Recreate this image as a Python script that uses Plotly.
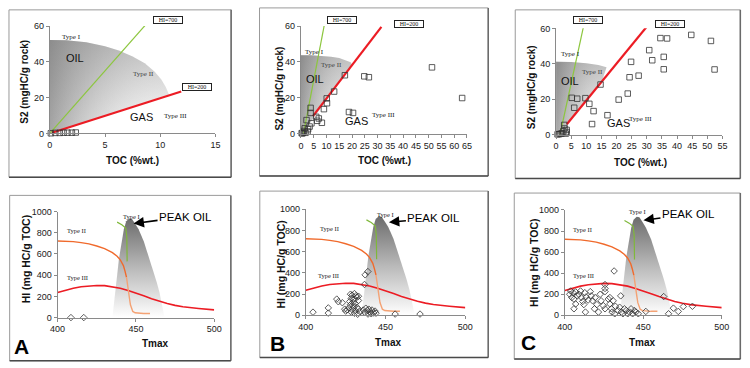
import plotly.graph_objects as go

W, H = 750, 368
def fx(p): return p / W
def fy(p): return 1 - p / H

# ---------------- DATA ----------------
# Top row: S2 (mgHC/g rock) vs TOC (%wt.)
A_toc = [0.1, 0.5, 0.9, 1.25, 1.6, 2.0, 2.35]
A_s2 = [0.1, 0.3, 0.3, 0.4, 0.4, 0.4, 0.5]

B_toc = [17.2, 24.8, 26.6, 51.3, 63.1, 13.0, 10.1, 10.2, 9.0, 3.8, 3.8, 2.2, 6.0, 7.0, 8.2,
         6.4, 4.1, 18.8, 20.4, 1.5, 3.4, 2.6, 0.9, 0.3, 1.8, 2.8, 1.2, 0.6]
B_s2 = [32.6, 32.0, 31.5, 37.0, 19.9, 23.5, 19.7, 17.0, 13.7, 14.4, 11.6, 7.6, 9.4, 8.5, 6.1,
        7.2, 5.8, 12.1, 11.6, 3.0, 4.0, 1.2, 0.7, 0.3, 0.5, 2.5, 1.5, 0.2]

C_toc = [34.5, 36.7, 44.7, 51.2, 30.8, 31.8, 35.6, 35.6, 52.4, 24.8, 27.3, 24.3, 23.7, 20.7,
         14.7, 9.7, 11.0, 12.4, 7.0, 5.2, 6.0, 17.0, 11.9, 2.7, 3.5, 2.4, 0.5, 1.0, 1.5, 2.0,
         3.2, 3.5, 2.8]
C_s2 = [54.5, 54.3, 56.3, 52.9, 47.7, 42.0, 43.9, 36.9, 36.8, 41.1, 33.3, 32.4, 23.2, 19.8,
        28.3, 20.6, 17.4, 13.3, 20.3, 20.8, 15.2, 11.0, 6.0, 5.5, 2.7, 1.9, 0.2, 0.3, 0.5, 0.8,
        0.6, 1.5, 3.5]

# HI reference lines (TOC, S2)
A_hi700 = ([0, 8.8], [0, 61.6]);    A_hi200 = ([0.2, 11.9], [0.4, 23.4])
B_hi700 = ([1.0, 9.2], [0, 61]);    B_hi200 = ([4.7, 31.5], [9.8, 59.6])
C_hi700 = ([1.3, 9.2], [0, 62]);    C_hi200 = ([3.56, 30.5], [5.85, 62])

# Oil zone outlines (TOC, S2)
A_oil_toc = [0, 0, 1.5, 3.3, 5, 6.25, 7.5, 8.6, 9.5, 10.1, 10.5, 10.8, 0.2]
A_oil_s2 = [0, 52.3, 52.1, 51, 48.8, 46.4, 43, 39.2, 34.5, 30.1, 26, 21.6, 0.4]
B_oil_toc = [0, 0, 4, 8, 11.8, 15, 17.5, 19.5, 20.1, 18.8, 17.4, 0.5]
B_oil_s2 = [0, 43.7, 43.7, 43.5, 42.9, 42.2, 41, 39.8, 38.3, 35.5, 33.2, 0]
C_oil_toc = [0, 0, 5, 10, 14, 16.7, 15.9, 15.1, 0.75]
C_oil_s2 = [0, 41.2, 41, 40.3, 39.3, 38.0, 34, 29.6, 0]

# Bottom row: HI vs Tmax
typeII_hi_T = [400, 405, 410, 415, 420, 425, 430, 435, 438, 440, 442, 443, 444]
typeII_hi_HI = [722, 721, 716, 707, 695, 675, 650, 612, 578, 545, 490, 440, 380]
typeII_lo_T = [444, 444.7, 445.3, 445.9, 446.5, 447.2, 448, 449.5, 452, 455, 459]
typeII_lo_HI = [380, 320, 250, 180, 120, 80, 58, 45, 40, 38, 38]
typeIII_T = [400, 405, 410, 415, 420, 425, 430, 435, 440, 445, 450, 455, 460, 465, 470, 475, 480, 490, 500]
typeIII_HI = [236, 258, 277, 291, 300, 303, 301, 292, 277, 255, 232, 205, 178, 152, 132, 115, 102, 86, 73]
typeI_T = [438, 441, 443.5, 444.2, 444.4]
typeI_HI = [900, 875, 845, 760, 530]
peak_T = [435, 436.7, 439.2, 442.3, 443.8, 445.8, 447.5, 449.5, 451.7, 455, 457.9, 460.5, 463.1, 465, 466.2, 467.9, 468.3, 435]
peak_HI = [0, 251, 557, 832, 908, 935, 930, 885, 832, 720, 587, 470, 343, 240, 159, 37, 0, 0]

Abot_T = [408.5, 416.7]
Abot_HI = [0, 0]

Bbot_T = [404.5, 414.1, 414.1, 419.4, 420.4, 422.9, 424.4, 426, 425, 428, 429, 430.5, 431.5, 428.5,
          430, 432, 427.5, 429.5, 431, 433, 428, 430, 432, 427, 429, 431, 433, 428.5, 430.5, 432.5,
          434, 433, 436.8, 437.2, 438.9, 437.6, 438.5, 439.5, 440.5, 441.5, 442.5, 443.4, 437, 439,
          441, 444, 436, 456, 471.6]
Bbot_HI = [30, 70, 21, 153, 128, 119, 58, 52, 40, 199, 190, 205, 185, 160, 150, 170, 130, 120, 110,
           140, 100, 85, 75, 70, 55, 45, 60, 30, 20, 10, 35, 180, 291, 382, 413, 67, 45, 58, 30, 50,
           22, 40, 25, 12, 15, 20, 50, 12, 12]

Cbot_T = [403.7, 403.1, 405.2, 406.9, 404.4, 407.9, 405.8, 408.9, 410, 410.6, 411.4, 412.7, 413.5,
          414.8, 412.1, 406.9, 405.8, 413.1, 416.2, 416.8, 417.7, 419.3, 420.4, 418.9, 421.4, 422.5,
          423.1, 424.5, 425.6, 425.6, 425.6, 425.6, 427.7, 428.7, 429.7, 430.1, 431.8, 428.7, 430.8,
          432.2, 433.9, 434.9, 436, 437, 438, 439.1, 440.1, 441.2, 442.2, 443.2, 444.3, 445.3, 446.8,
          431.4, 435.6, 463, 469.2, 472.3, 475.5, 481.3, 466.1, 451.6]
Cbot_HI = [231, 200, 215, 222, 169, 185, 154, 200, 231, 169, 132, 215, 175, 145, 102, 108, 62, 31,
           225, 185, 138, 169, 102, 62, 31, 200, 138, 92, 62, 292, 255, 225, 154, 108, 62, 31, 15,
           169, 138, 86, 46, 77, 31, 15, 62, 46, 15, 31, 62, 15, 46, 31, 15, 421, 185, 178, 68, 37,
           83, 86, 15, 37]

# ---------------- FIGURE ----------------
fig = go.Figure()

INK = '#333333'
RED = '#ec1c24'
GREEN = '#8cc63e'

def oil_zone(xs, ys, ax):
    fig.add_trace(go.Scatter(x=xs, y=ys, xaxis='x' + ax, yaxis='y' + ax, mode='lines',
                             fill='toself', line=dict(width=0), hoverinfo='skip',
                             fillgradient=dict(type='horizontal',
                                               colorscale=[[0, 'rgba(110,110,110,0.62)'],
                                                           [1, 'rgba(255,255,255,0)']])))
    fig.add_trace(go.Scatter(x=xs, y=ys, xaxis='x' + ax, yaxis='y' + ax, mode='lines',
                             fill='toself', line=dict(width=0), hoverinfo='skip',
                             fillgradient=dict(type='vertical',
                                               colorscale=[[0, 'rgba(110,110,110,0)'],
                                                           [1, 'rgba(110,110,110,0.45)']])))

def line(xs, ys, ax, color, width):
    fig.add_trace(go.Scatter(x=xs, y=ys, xaxis='x' + ax, yaxis='y' + ax, mode='lines',
                             line=dict(color=color, width=width), hoverinfo='skip'))

def pts(xs, ys, ax, symbol, size):
    fig.add_trace(go.Scatter(x=xs, y=ys, xaxis='x' + ax, yaxis='y' + ax, mode='markers',
                             cliponaxis=False,
                             marker=dict(symbol=symbol, size=size, color=INK,
                                         line=dict(width=0.8, color=INK))))

top = [
    ('', A_oil_toc, A_oil_s2, A_hi700, A_hi200, A_toc, A_s2),
    ('2', B_oil_toc, B_oil_s2, B_hi700, B_hi200, B_toc, B_s2),
    ('3', C_oil_toc, C_oil_s2, C_hi700, C_hi200, C_toc, C_s2),
]
for ax, ox, oy, h7, h2, tx, ty in top:
    oil_zone(ox, oy, ax)
    line(h7[0], h7[1], ax, GREEN, 1.2)
    line(h2[0], h2[1], ax, RED, 2.2)
    pts(tx, ty, ax, 'square-open', 5.5)

bottom = [('4', Abot_T, Abot_HI), ('5', Bbot_T, Bbot_HI), ('6', Cbot_T, Cbot_HI)]
for ax, bt, bh in bottom:
    fig.add_trace(go.Scatter(x=peak_T, y=peak_HI, xaxis='x' + ax, yaxis='y' + ax, mode='lines',
                             fill='toself', line=dict(width=0), hoverinfo='skip',
                             fillgradient=dict(type='vertical',
                                               colorscale=[[0, 'rgba(255,255,255,1)'],
                                                           [0.5, 'rgba(185,185,185,1)'],
                                                           [1, 'rgba(108,108,108,1)']])))
    line(typeIII_T, typeIII_HI, ax, RED, 1.6)
    line(typeII_hi_T, typeII_hi_HI, ax, '#f06a2c', 1.4)
    line(typeII_lo_T, typeII_lo_HI, ax, '#f4a274', 1.4)
    line(typeI_T, typeI_HI, ax, '#7fb83a', 1.2)
    pts(bt, bh, ax, 'diamond-open', 5)

# ---------------- AXES ----------------
tickfont = dict(family='Arial', size=9, color='#1a1a1a')
common = dict(showgrid=False, zeroline=False, showline=True, linecolor='#8a8a8a', linewidth=1,
              ticks='outside', ticklen=3, tickcolor='#8a8a8a', tickfont=tickfont)

top_dom = [((42.7, 212), (21.7, 132), 15), ((299.3, 469), (21.7, 132.3), 65),
           ((560, 730), (24, 133.3), 55)]
bot_dom = [((50.7, 210.7), (212.3, 321.3)), ((304.3, 467.3), (210, 319)),
           ((569, 729.3), (210.7, 319))]

lay = {}
for i, ((x0, x1), (y0, y1), xmax) in enumerate(top_dom):
    n = '' if i == 0 else str(i + 1)
    lay['xaxis' + n] = dict(domain=[fx(x0), fx(x1)], range=[0, xmax], dtick=5, tick0=0,
                            anchor='y' + n, **common)
    lay['yaxis' + n] = dict(domain=[fy(y1), fy(y0)], range=[0, 60], dtick=20, tick0=0,
                            anchor='x' + n, **common)
for i, ((x0, x1), (y0, y1)) in enumerate(bot_dom):
    n = str(i + 4)
    lay['xaxis' + n] = dict(domain=[fx(x0), fx(x1)], range=[400, 500], dtick=50, tick0=400,
                            anchor='y' + n, **common)
    lay['yaxis' + n] = dict(domain=[fy(y1), fy(y0)], range=[0, 1000], dtick=200, tick0=0,
                            anchor='x' + n, **common)

# ---------------- FRAMES ----------------
frames = [(1, 5, 228, 177), (257, 3, 490.7, 175.7), (518.3, 5, 748.3, 178.3),
          (1.7, 195.7, 227.7, 365.7), (257.3, 191.3, 490.7, 362.3), (517.3, 193.3, 748.3, 364)]
shapes = []
for (x0, y0, x1, y1) in frames:
    shapes.append(dict(type='rect', xref='paper', yref='paper', x0=fx(x0), x1=fx(x1),
                       y0=fy(y1), y1=fy(y0), line=dict(color='#9a9a9a', width=1), layer='below'))
    shapes.append(dict(type='line', xref='paper', yref='paper', x0=fx(x1), x1=fx(x1),
                       y0=fy(y1), y1=fy(y0), line=dict(color='#6a6a6a', width=1.5)))
    shapes.append(dict(type='line', xref='paper', yref='paper', x0=fx(x0), x1=fx(x1),
                       y0=fy(y1), y1=fy(y1), line=dict(color='#4a4a4a', width=1.5)))

# ---------------- TEXT ----------------
anns = []
def ptxt(text, x, y, size, family='Arial', angle=0, color='#111'):
    anns.append(dict(text=text, x=fx(x), y=fy(y), xref='paper', yref='paper', showarrow=False,
                     font=dict(family=family, size=size, color=color), textangle=angle,
                     xanchor='center', yanchor='middle'))

def dtxt(text, x, y, ax, size, family='Liberation Serif', color='#222'):
    anns.append(dict(text=text, x=x, y=y, xref='x' + ax, yref='y' + ax, showarrow=False,
                     font=dict(family=family, size=size, color=color),
                     xanchor='center', yanchor='middle'))

def hibox(text, x, y):
    anns.append(dict(text=text, x=fx(x), y=fy(y), xref='paper', yref='paper', showarrow=False,
                     font=dict(family='Liberation Serif', size=6, color='#111'),
                     bordercolor='#222', borderwidth=1, borderpad=0, bgcolor='white',
                     width=28, height=6, xanchor='center', yanchor='middle'))

# axis titles
for (xx, yy) in [(17.3, 79), (277, 85.8), (535, 85)]:
    ptxt('<b>S2 (mgHC/g rock)</b>', xx, yy, 10, angle=-90)
for (xx, yy) in [(127.7, 160), (385, 160), (646.2, 162.3)]:
    ptxt('<b>TOC (%wt.)</b>', xx, yy, 10)
for (xx, yy) in [(18.3, 261.5), (278.5, 267.3), (538, 265.7)]:
    ptxt('<b>HI (mg HC/g TOC)</b>', xx, yy, 10.5, angle=-90)
for (xx, yy) in [(150.5, 348.3), (388.3, 346.7), (648, 347.3)]:
    ptxt('<b>Tmax</b>', xx, yy, 10)

# panel letters
for t, xx, yy in [('A', 13.3, 350.7), ('B', 275, 348.3), ('C', 531.7, 347.3)]:
    ptxt('<b>' + t + '</b>', xx, yy, 21, color='#000')

# HI boxes
for t, xx, yy in [('HI=700', 163.5, 15.3), ('HI=200', 193.5, 84), ('HI=700', 341, 15.5),
                  ('HI=200', 410, 19.5), ('HI=700', 593, 15.7), ('HI=200', 676, 19.7)]:
    hibox(t, xx, yy)

# top panel labels
dtxt('Type I', 1.98, 54, '', 7)
dtxt('Type II', 8.47, 33.3, '', 7, color='#444')
dtxt('Type III', 11.4, 9.8, '', 7)
dtxt('OIL', 2.27, 42.4, '', 11, family='Arial', color='#111')
dtxt('GAS', 8.27, 9.2, '', 11, family='Arial', color='#111')

dtxt('Type I', 5.4, 45.6, '2', 7)
dtxt('Type II', 11.8, 38.3, '2', 7, color='#444')
dtxt('Type III', 32.2, 10.3, '2', 7)
dtxt('OIL', 5.4, 30.5, '2', 11, family='Arial', color='#111')
dtxt('GAS', 21.7, 7.2, '2', 11, family='Arial', color='#111')

dtxt('Type I', 4.85, 45.3, '3', 7)
dtxt('Type II', 11.9, 35.3, '3', 7, color='#444')
dtxt('Type III', 28, 8.8, '3', 7)
dtxt('OIL', 4.5, 30.2, '3', 11, family='Arial', color='#111')
dtxt('GAS', 20.5, 6.4, '3', 11, family='Arial', color='#111')

# bottom panel labels
for ax, t1, t2, t3 in [('4', (447.4, 954), (412, 817), (412.5, 382)),
                       ('5', (449.9, 948), (414.7, 817), (414.1, 373)),
                       ('6', (446.4, 985), (411.4, 815), (412, 378))]:
    dtxt('Type I', t1[0], t1[1], ax, 6.5)
    dtxt('Type II', t2[0], t2[1], ax, 6.5)
    dtxt('Type III', t3[0], t3[1], ax, 6.5)

for ax, hx, hy, ox, oy in [('4', 448.5, 886, 52, -7), ('5', 452.1, 878, 45, -4),
                           ('6', 450.1, 902, 45, -6)]:
    anns.append(dict(text='PEAK OIL', x=hx, y=hy, xref='x' + ax, yref='y' + ax,
                     showarrow=True, ax=ox, ay=oy, arrowhead=2, arrowsize=1.3, arrowwidth=1.6,
                     arrowcolor='#000', font=dict(family='Arial', size=11.5, color='#000')))

fig.update_layout(width=W, height=H, margin=dict(l=0, r=0, t=0, b=0),
                  paper_bgcolor='white', plot_bgcolor='white', showlegend=False,
                  shapes=shapes, annotations=anns, **lay)

fig.write_html('out.html', config={'displayModeBar': False},
               post_script="document.body.style.margin='0px';document.body.style.overflow='hidden';")
